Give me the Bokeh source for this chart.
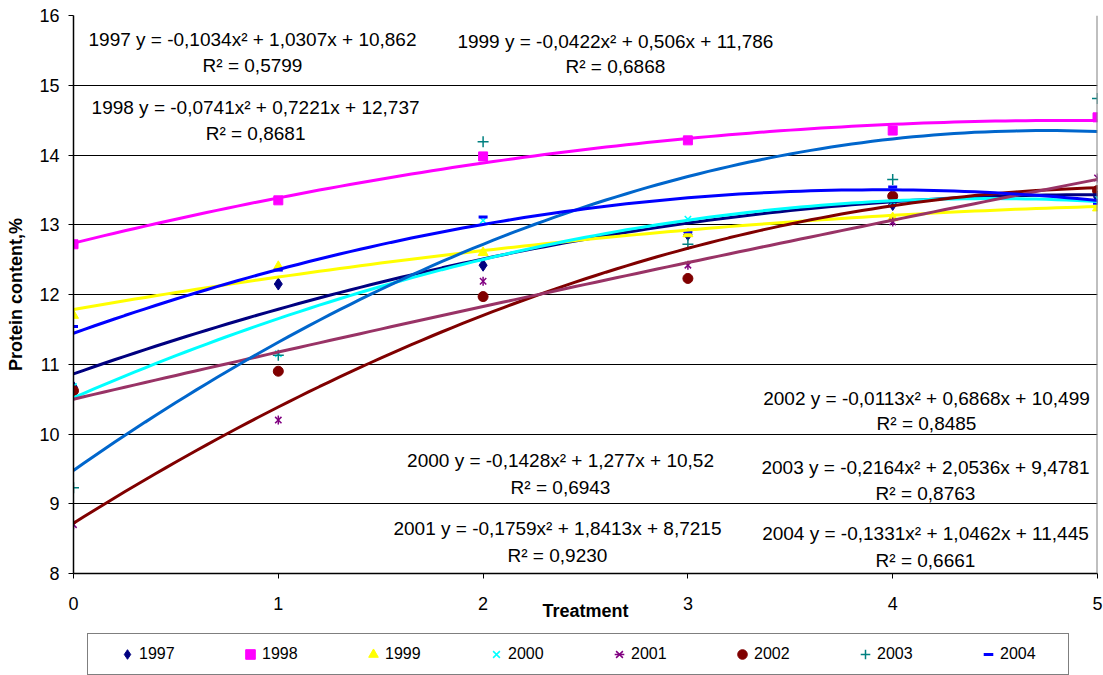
import numpy as np
from bokeh.plotting import figure
from bokeh.layouts import column
from bokeh.models import Legend, LegendItem, FixedTicker, Span
from bokeh.embed import file_html
from bokeh.resources import INLINE
from bokeh.core.properties import value

# ---------------- data ----------------
treatment = [0, 1, 2, 3, 4, 5]
years = ["1997", "1998", "1999", "2000", "2001", "2002", "2003", "2004"]

p1997 = [10.67, 12.15, 12.42, 12.86, 13.29, 13.40]
p1998 = [12.72, 13.35, 13.98, 14.21, 14.35, 14.54]
p1999 = [11.70, 12.40, 12.60, 12.87, 13.10, 13.24]
p2000 = [10.68, 11.15, 13.06, 13.08, 13.33, 13.38]
p2001 = [8.70, 10.20, 12.19, 12.42, 13.04, 13.67]
p2002 = [10.62, 10.90, 11.97, 12.23, 13.41, 13.49]
p2003 = [9.23, 11.13, 14.19, 12.72, 13.65, 14.81]
p2004 = [11.54, 12.35, 13.11, 12.90, 13.54, 13.31]

# trendline coefficients (a, b, c) as printed on the chart: y = a x^2 + b x + c
coef_1997 = [-0.1034, 1.0307, 10.862]
coef_1998 = [-0.0741, 0.7221, 12.737]
coef_1999 = [-0.0422, 0.506, 11.786]
coef_2000 = [-0.1428, 1.277, 10.52]
coef_2001 = [-0.1759, 1.8413, 8.7215]
coef_2002 = [-0.0113, 0.6868, 10.499]
coef_2003 = [-0.2164, 2.0536, 9.4781]
coef_2004 = [-0.1331, 1.0462, 11.445]

eq_texts = [
    "1997 y = -0,1034x² + 1,0307x + 10,862",
    "1998 y = -0,0741x² + 0,7221x + 12,737",
    "1999 y = -0,0422x² + 0,506x + 11,786",
    "2000 y = -0,1428x² + 1,277x + 10,52",
    "2001 y = -0,1759x² + 1,8413x + 8,7215",
    "2002 y = -0,0113x² + 0,6868x + 10,499",
    "2003 y = -0,2164x² + 2,0536x + 9,4781",
    "2004 y = -0,1331x² + 1,0462x + 11,445",
]
r2_texts = ["R² = 0,5799", "R² = 0,8681", "R² = 0,6868", "R² = 0,6943",
            "R² = 0,9230", "R² = 0,8485", "R² = 0,8763", "R² = 0,6661"]

# ---------------- layout / style ----------------
FONT = "Liberation Sans"
# label centres in data units
lab_x = [0.874, 0.889, 2.646, 2.378, 2.363, 4.165, 4.160, 4.160]
eq_y = [15.656, 14.68, 15.63, 9.62, 8.645, 10.51, 9.52, 8.57]
r2_y = [15.283, 14.31, 15.27, 9.23, 8.26, 10.15, 9.15, 8.19]

curve_colors = ["#000080", "#FF00FF", "#FFFF00", "#00FFFF",
                "#800000", "#993366", "#0066CC", "#0000FF"]

p = figure(frame_width=1024, frame_height=558, x_range=(0, 5), y_range=(8, 16),
           output_backend="svg", toolbar_location=None,
           min_border_left=73, min_border_right=6, min_border_top=15,
           min_border_bottom=54)
p.outline_line_color = None
p.background_fill_color = "white"
p.border_fill_color = "white"

p.xgrid.visible = False
p.ygrid.ticker = FixedTicker(ticks=list(range(8, 17)))
p.ygrid.grid_line_color = "black"
p.ygrid.grid_line_width = 1

for ax in (p.xaxis[0], p.yaxis[0]):
    ax.axis_line_color = "black"
    ax.axis_line_width = 1.5
    ax.major_tick_line_color = "black"
    ax.major_tick_in = 0
    ax.major_tick_out = 5
    ax.minor_tick_line_color = None
    ax.major_label_text_font = FONT
    ax.major_label_text_font_size = "18px"
    ax.major_label_text_color = "black"
    ax.axis_label_text_font = FONT
    ax.axis_label_text_font_size = "18px"
    ax.axis_label_text_font_style = "bold"
    ax.axis_label_text_color = "black"

p.xaxis.ticker = FixedTicker(ticks=treatment)
p.yaxis.ticker = FixedTicker(ticks=list(range(8, 17)))
p.xaxis.axis_label = "Treatment"
p.yaxis.axis_label = "Protein content,%"
p.xaxis.major_label_standoff = 18
p.xaxis.axis_label_standoff = -12
p.yaxis.major_label_standoff = 9
p.yaxis.axis_label_standoff = 10

p.add_layout(Span(location=5, dimension="height", line_color="#808080", line_width=2))

series = [
    ("1997", p1997, dict(marker="diamond", size=12, fill_color="#000080", line_color="#000080")),
    ("1998", p1998, dict(marker="square", size=9, fill_color="#FF00FF", line_color="#FF00FF")),
    ("1999", p1999, dict(marker="triangle", size=10, fill_color="#FFFF00", line_color="#FFFF00")),
    ("2000", p2000, dict(marker="x", size=9, line_color="#00FFFF", line_width=1.5)),
    ("2001", p2001, dict(marker="x", size=9, line_color="#800080", line_width=1.5)),
    ("2002", p2002, dict(marker="circle", size=10, fill_color="#800000", line_color="#800000")),
    ("2003", p2003, dict(marker="cross", size=11, line_color="#008080", line_width=1.5)),
    ("2004", p2004, dict(marker="dash", size=9, line_color="#0000FF", line_width=3)),
]
star_bar = dict(marker="dash", angle=np.pi / 2, size=9, line_color="#800080", line_width=1.5)


def draw_markers(fig):
    rends = []
    for name, vals, style in series:
        r = [fig.scatter(treatment, vals, **style)]
        if name == "2001":
            r.append(fig.scatter(treatment, vals, **star_bar))
        rends.append((name, r))
    return rends


# ---------------- markers (under the trendlines) ----------------
draw_markers(p)

# ---------------- trendlines ----------------
xs = np.linspace(0, 5, 101)
coefs = [coef_1997, coef_1998, coef_1999, coef_2000, coef_2001, coef_2002, coef_2003, coef_2004]
for c, col in zip(coefs, curve_colors):
    p.line(xs, np.polyval(c, xs), line_color=col, line_width=3)

# ---------------- equation labels ----------------
p.text(x=lab_x, y=eq_y, text=eq_texts, text_font=value(FONT), text_font_size="19px",
       text_align="center", text_baseline="middle", text_color="black")
p.text(x=lab_x, y=r2_y, text=r2_texts, text_font=value(FONT), text_font_size="19px",
       text_align="center", text_baseline="middle", text_color="black")

# ---------------- legend strip (separate figure below the chart) ----------------
lg = figure(width=1103, height=48, x_range=(100, 101), y_range=(0, 1),
            output_backend="svg", toolbar_location=None,
            x_axis_location=None, y_axis_location=None, min_border=0)
lg.outline_line_color = None
lg.grid.visible = False
lg.background_fill_color = "white"
lg.border_fill_color = "white"
leg_rends = draw_markers(lg)

items = [LegendItem(label=name, renderers=r) for name, r in leg_rends]
legend = Legend(items=items, orientation="horizontal", location=(14, 0),
                title="\u00a0", title_location="left", title_standoff=1,
                title_text_font_size="16px",
                padding=8, spacing=39, margin=0,
                glyph_width=24, glyph_height=24, label_standoff=0, label_width=60,
                label_text_font=FONT, label_text_font_size="16px", label_text_color="black",
                border_line_color="black", border_line_width=1,
                background_fill_color="white")
lg.add_layout(legend, "center")

layout = column(p, lg, spacing=0)
open("out.html", "w").write(file_html(layout, INLINE))
